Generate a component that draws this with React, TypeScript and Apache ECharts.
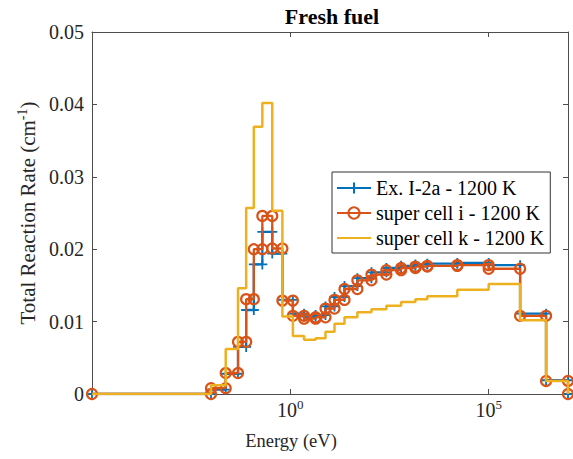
import React, { useEffect, useRef } from "react";
import * as echarts from "echarts";

// Group boundaries (eV)
const energyEdges = [
  1e-5, 0.01, 0.0235, 0.048, 0.077, 0.12, 0.197, 0.35, 0.63, 1.16, 2.22, 4.33,
  7.7, 13, 23.2, 49, 111, 264, 620, 1420, 2840, 16200, 1e5, 6.2e5, 2.8e6, 1e7,
];

// Group-wise total reaction rate (cm^-1)
const exI2a = [
  0, 0.0006, 0.0028, 0.0065, 0.0116, 0.0179, 0.0224, 0.0194, 0.013, 0.0111,
  0.0107, 0.0109, 0.0121, 0.0134, 0.0149, 0.016, 0.0168, 0.0174, 0.0177,
  0.0179, 0.018, 0.0181, 0.0178, 0.0111, 0.0019,
];
const superCellI = [
  0, 0.0008, 0.0029, 0.0072, 0.0131, 0.02, 0.0246, 0.0201, 0.0129, 0.0108,
  0.0104, 0.0106, 0.0118, 0.013, 0.0145, 0.0157, 0.0165, 0.0171, 0.0174,
  0.0176, 0.0177, 0.0178, 0.0173, 0.0108, 0.0018,
];
const superCellK = [
  0, 0.0012, 0.0062, 0.0146, 0.0257, 0.0369, 0.0402, 0.0253, 0.0107, 0.008,
  0.0075, 0.0077, 0.0086, 0.0097, 0.0106, 0.0113, 0.0117, 0.0122, 0.0127,
  0.0131, 0.0135, 0.0144, 0.0152, 0.0102, 0.0018,
];

const seriesNames = [
  "Ex. I-2a - 1200 K",
  "super cell i - 1200 K",
  "super cell k - 1200 K",
];
const yTicks = [0, 0.01, 0.02, 0.03, 0.04, 0.05];
const xTickValues = [1, 1e5];

const BLUE = "#0072BD";
const ORANGE = "#D95319";
const YELLOW = "#EDB120";
const AXIS = "#4d4d4d";
const FONT = "Liberation Serif";

function stairs(values: number[]): [number, number][] {
  const pts: [number, number][] = [];
  values.forEach((v, i) => {
    pts.push([energyEdges[i], v]);
    pts.push([energyEdges[i + 1], v]);
  });
  pts.push([energyEdges[energyEdges.length - 1], 0]);
  return pts;
}

const supExp = (v: number) => Math.round(Math.log10(v));

export default function App() {
  const ref = useRef<HTMLDivElement>(null);
  useEffect(() => {
    if (!ref.current) return;
    const chart = echarts.init(ref.current, undefined, { renderer: "svg" });
    const grid = { left: 92, top: 32, width: 476, height: 362 };
    const xCommon = {
      type: "log" as const,
      logBase: 10,
      min: energyEdges[0],
      max: energyEdges[energyEdges.length - 1],
      splitLine: { show: false },
      minorTick: { show: false },
      axisLine: { show: true, onZero: false, lineStyle: { color: AXIS, width: 1 } },
    };
    const yCommon = {
      type: "value" as const,
      min: yTicks[0],
      max: yTicks[yTicks.length - 1],
      interval: 0.01,
      splitLine: { show: false },
      axisLine: { show: true, lineStyle: { color: AXIS, width: 1 } },
      axisTick: { show: true, inside: true, length: 5, lineStyle: { color: AXIS } },
    };
    chart.setOption({
      animation: false,
      backgroundColor: "#fff",
      grid,
      graphic: [
        {
          type: "text",
          x: 332,
          y: 16.5,
          style: {
            text: "Fresh fuel",
            fontFamily: FONT,
            fontSize: 22,
            fontWeight: "bold",
            fill: "#000",
            textAlign: "center",
            textVerticalAlign: "middle",
          },
        },
        {
          type: "text",
          x: 291,
          y: 441,
          style: {
            text: "Energy (eV)",
            fontFamily: FONT,
            fontSize: 18.5,
            fill: "#262626",
            textAlign: "center",
            textVerticalAlign: "middle",
          },
        },
      ],
      xAxis: [
        {
          ...xCommon,
          position: "bottom",
          axisTick: {
            show: true,
            inside: true,
            length: 5,
            customValues: xTickValues,
            lineStyle: { color: AXIS },
          },
          axisLabel: {
            show: true,
            margin: 4,
            customValues: xTickValues,
            formatter: (v: number) => `{b|10}{s|${supExp(v)}}`,
            rich: {
              b: { fontFamily: FONT, fontSize: 20, color: "#262626" },
              s: {
                fontFamily: FONT,
                fontSize: 13,
                color: "#262626",
                padding: [0, 0, 10, 0],
              },
            },
          },
        },
        {
          ...xCommon,
          position: "top",
          axisTick: {
            show: true,
            inside: true,
            length: 5,
            customValues: xTickValues,
            lineStyle: { color: AXIS },
          },
          axisLabel: { show: false },
        },
      ],
      yAxis: [
        {
          ...yCommon,
          position: "left",
          name: "{a|Total Reaction Rate (cm}{s|-1}{a|)}",
          nameLocation: "middle",
          nameGap: 46,
          nameTextStyle: {
            rich: {
              a: { fontFamily: FONT, fontSize: 21, color: "#262626" },
              s: {
                fontFamily: FONT,
                fontSize: 14,
                color: "#262626",
                padding: [0, 0, 10, 0],
              },
            },
          },
          axisLabel: {
            margin: 8,
            fontFamily: FONT,
            fontSize: 20,
            color: "#262626",
            formatter: (v: number) => (v === 0 ? "0" : v.toFixed(2)),
          },
        },
        {
          ...yCommon,
          position: "right",
          axisLabel: { show: false },
        },
      ],
      legend: {
        orient: "vertical",
        left: 332,
        top: 172,
        padding: [6, 6, 5, 4],
        itemWidth: 34,
        itemHeight: 14,
        itemGap: 5,
        backgroundColor: "#fff",
        borderColor: "#333",
        borderWidth: 1,
        borderRadius: 0,
        textStyle: { fontFamily: FONT, fontSize: 20, color: "#000" },
        data: [
          { name: seriesNames[0] },
          { name: seriesNames[1] },
          { name: seriesNames[2], itemStyle: { opacity: 0 } },
        ],
      },
      series: [
        {
          name: seriesNames[0],
          type: "line",
          data: stairs(exI2a),
          symbol: "path://M-1,-0.18H1V0.18H-1Z M-0.18,-1H0.18V1H-0.18Z",
          symbolSize: 10,
          showAllSymbol: true,
          itemStyle: { color: BLUE },
          lineStyle: { color: BLUE, width: 2.3 },
          z: 2,
        },
        {
          name: seriesNames[1],
          type: "line",
          data: stairs(superCellI),
          symbol: "circle",
          symbolSize: 10,
          showAllSymbol: true,
          itemStyle: { color: "rgba(255,255,255,0)", borderColor: ORANGE, borderWidth: 2.2 },
          lineStyle: { color: ORANGE, width: 2.3 },
          z: 3,
        },
        {
          name: seriesNames[2],
          type: "line",
          data: stairs(superCellK),
          symbol: "none",
          itemStyle: { color: YELLOW },
          lineStyle: { color: YELLOW, width: 2.5 },
          z: 4,
        },
      ],
    });
    return () => chart.dispose();
  }, []);
  return (
    <div
      ref={ref}
      style={{ position: "absolute", left: 0, top: 0, width: 573, height: 459 }}
    />
  );
}
